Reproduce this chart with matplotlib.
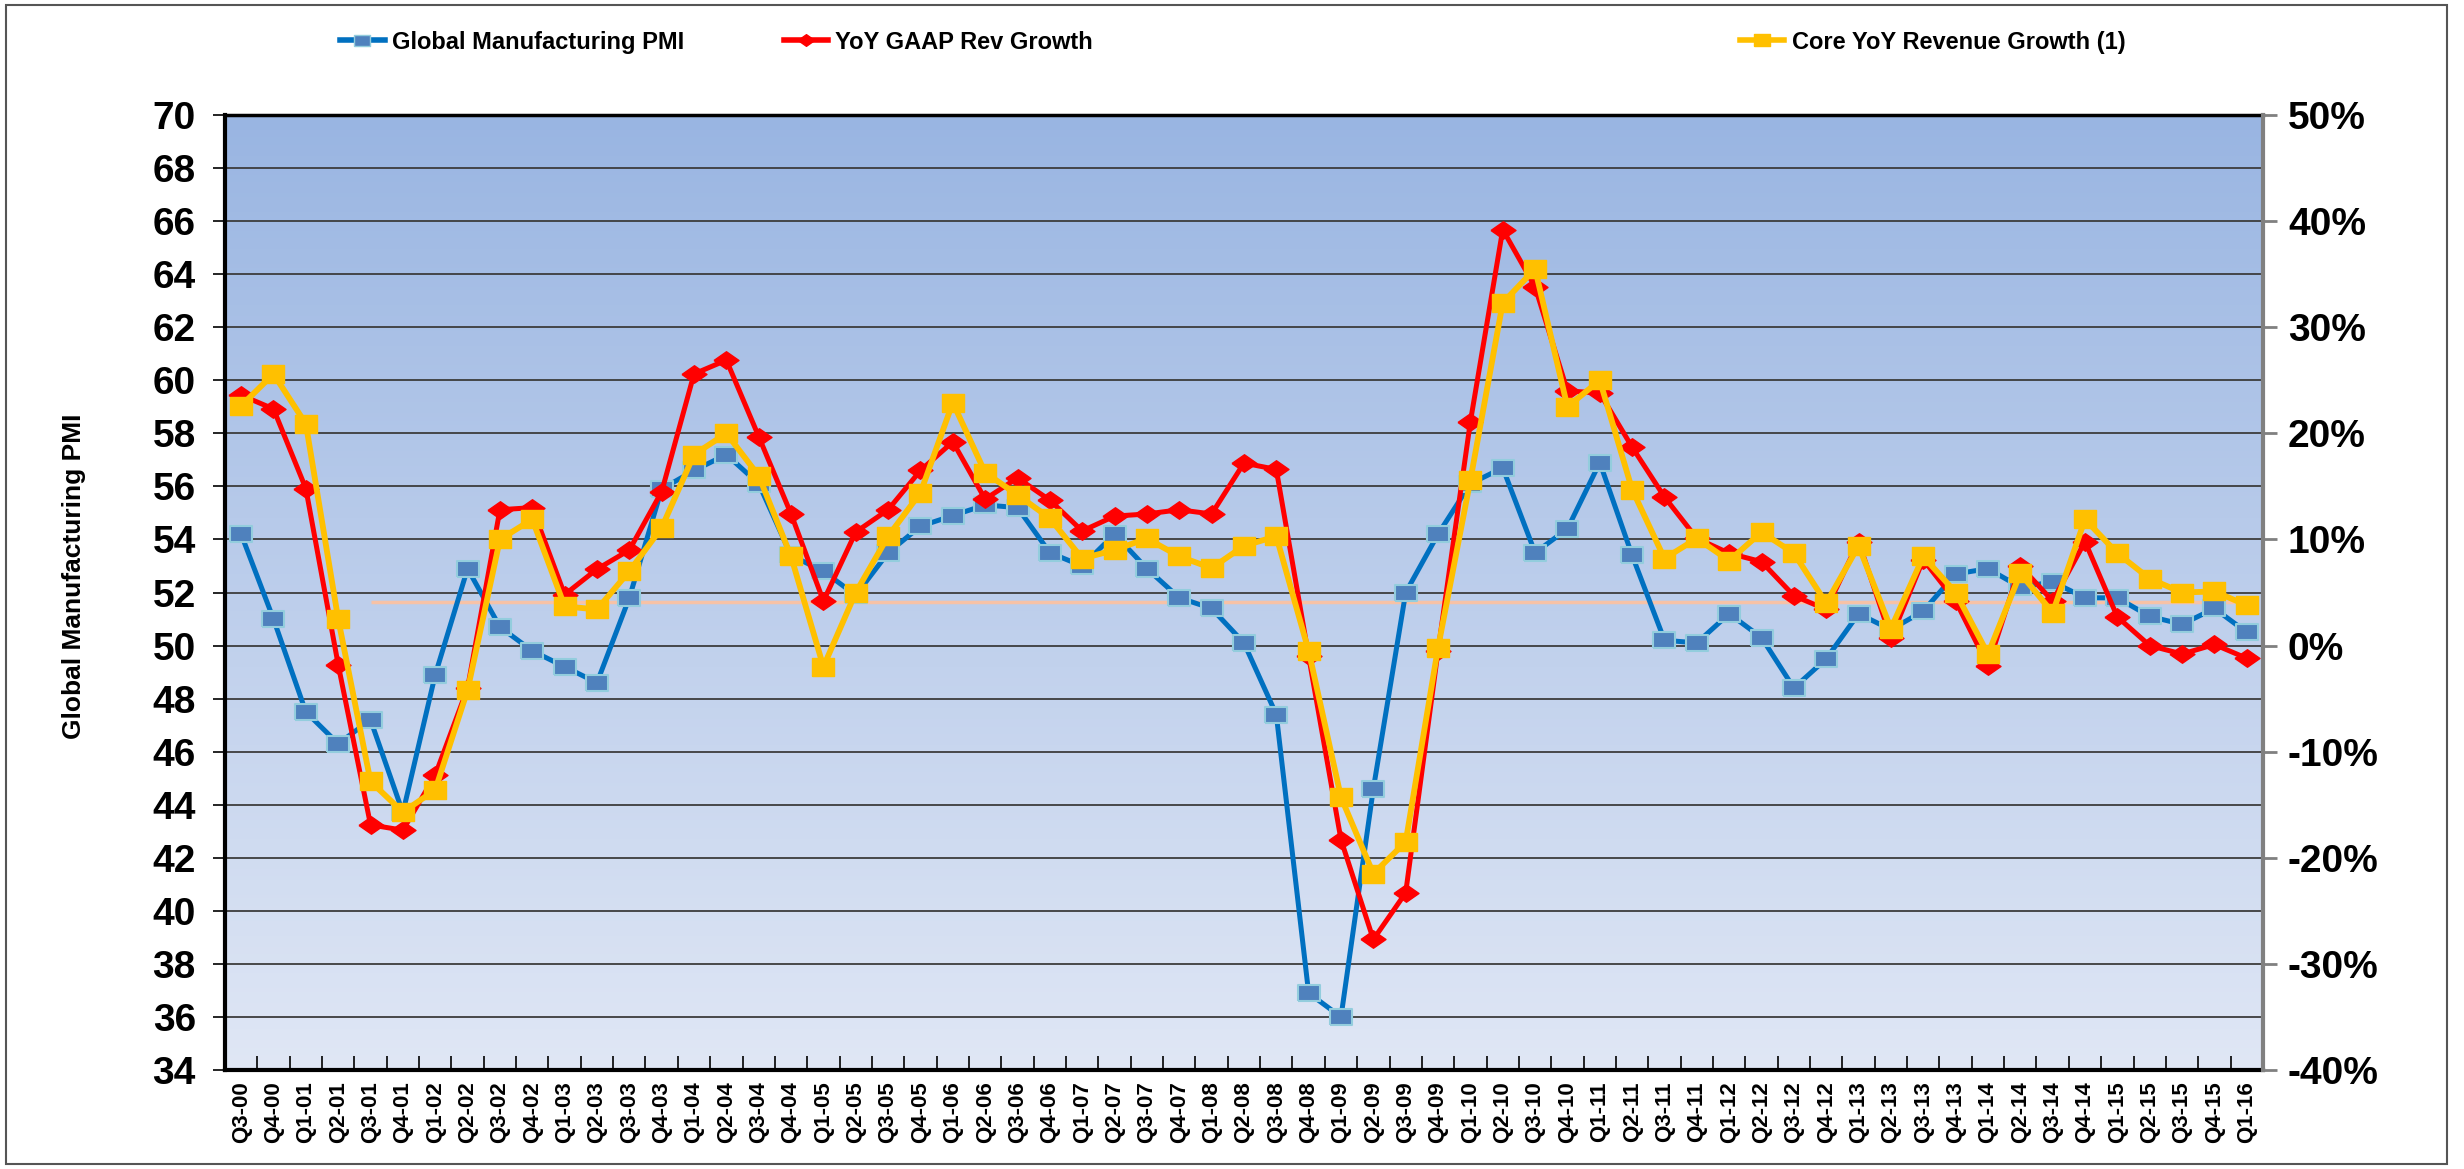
import matplotlib
matplotlib.use("Agg")
import matplotlib.pyplot as plt
from matplotlib import font_manager
from matplotlib.colors import LinearSegmentedColormap
from matplotlib.lines import Line2D
from matplotlib.patches import Rectangle
import numpy as np

quarters = [
    "Q3-00", "Q4-00",
    "Q1-01", "Q2-01", "Q3-01", "Q4-01",
    "Q1-02", "Q2-02", "Q3-02", "Q4-02",
    "Q1-03", "Q2-03", "Q3-03", "Q4-03",
    "Q1-04", "Q2-04", "Q3-04", "Q4-04",
    "Q1-05", "Q2-05", "Q3-05", "Q4-05",
    "Q1-06", "Q2-06", "Q3-06", "Q4-06",
    "Q1-07", "Q2-07", "Q3-07", "Q4-07",
    "Q1-08", "Q2-08", "Q3-08", "Q4-08",
    "Q1-09", "Q2-09", "Q3-09", "Q4-09",
    "Q1-10", "Q2-10", "Q3-10", "Q4-10",
    "Q1-11", "Q2-11", "Q3-11", "Q4-11",
    "Q1-12", "Q2-12", "Q3-12", "Q4-12",
    "Q1-13", "Q2-13", "Q3-13", "Q4-13",
    "Q1-14", "Q2-14", "Q3-14", "Q4-14",
    "Q1-15", "Q2-15", "Q3-15", "Q4-15",
    "Q1-16",
]

# left axis
pmi = [
    54.2, 51.0, 47.5, 46.3, 47.2, 43.7, 48.9, 52.9, 50.7, 49.8,
    49.2, 48.6, 51.8, 55.9, 56.6, 57.2, 56.1, 53.4, 52.8, 51.9,
    53.5, 54.5, 54.9, 55.3, 55.2, 53.5, 53.0, 54.2, 52.9, 51.8,
    51.4, 50.1, 47.4, 36.9, 36.0, 44.6, 52.0, 54.2, 56.1, 56.7,
    53.5, 54.4, 56.9, 53.4, 50.2, 50.1, 51.2, 50.3, 48.4, 49.5,
    51.2, 50.6, 51.3, 52.7, 52.9, 52.2, 52.4, 51.8, 51.8, 51.1,
    50.8, 51.4, 50.5,
]

# right axis, percent
gaap_growth = [
    23.6, 22.3, 14.8, -1.8, -16.9, -17.4, -12.2, -4.0, 12.8, 13.0,
    4.8, 7.2, 9.0, 14.5, 25.6, 26.9, 19.7, 12.4, 4.2, 10.7,
    12.8, 16.5, 19.2, 13.8, 15.8, 13.7, 10.8, 12.2, 12.4, 12.8,
    12.4, 17.2, 16.6, -1.0, -18.3, -27.7, -23.3, -0.5, 21.1, 39.2,
    33.8, 24.0, 23.8, 18.7, 14.0, 10.1, 8.7, 7.9, 4.7, 3.4,
    9.8, 0.7, 8.1, 4.2, -1.9, 7.5, 4.2, 9.8, 2.7, 0.0,
    -0.8, 0.1, -1.2,
]

core_growth = [
    22.6, 25.6, 20.9, 2.5, -12.8, -15.7, -13.6, -4.2, 10.0, 11.9,
    3.7, 3.4, 7.0, 11.1, 18.0, 20.0, 16.0, 8.4, -2.0, 5.0,
    10.3, 14.4, 22.9, 16.3, 14.2, 12.0, 8.2, 9.0, 10.1, 8.4,
    7.3, 9.4, 10.3, -0.5, -14.3, -21.5, -18.5, -0.2, 15.6, 32.3,
    35.5, 22.5, 25.0, 14.7, 8.2, 10.1, 8.0, 10.7, 8.7, 4.0,
    9.4, 1.6, 8.4, 5.0, -0.8, 6.8, 3.1, 11.9, 8.7, 6.3,
    5.0, 5.1, 3.8,
]

avg_level = 51.65

left_ticks = list(range(34, 71, 2))
right_ticks = list(range(-40, 51, 10))

_names = {f.name for f in font_manager.fontManager.ttflist}
_FONT = "Liberation Sans Narrow" if "Liberation Sans Narrow" in _names else "Liberation Sans"
plt.rcParams["font.family"] = [_FONT, "DejaVu Sans"]
plt.rcParams["font.weight"] = "bold"

_BLUE = "#0070C0"
_BLUE_FACE = "#4F81BD"
_BLUE_EDGE = "#93CDDD"
_RED = "#FF0000"
_GOLD = "#FFC000"

_rect_blue = [(-1, -0.72), (1, -0.72), (1, 0.72), (-1, 0.72), (-1, -0.72)]
_rect_gold = [(-1, -0.8), (1, -0.8), (1, 0.8), (-1, 0.8), (-1, -0.8)]
_diamond = [(-1, 0), (0, 0.7), (1, 0), (0, -0.7), (-1, 0)]

fig = plt.figure(figsize=(24.64, 11.69), dpi=100)
ax = fig.add_axes([0.0913, 0.0847, 0.8271, 0.8169])
x = np.arange(len(quarters))

bg = LinearSegmentedColormap.from_list("bg", ["#E0E7F5", "#99B5E2"])
ax.imshow(np.linspace(0, 1, 256).reshape(-1, 1), cmap=bg, origin="lower",
          extent=[-0.5, len(quarters) - 0.5, 34, 70], aspect="auto", zorder=0)

ax.set_xlim(-0.5, len(quarters) - 0.5)
ax.set_ylim(34, 70)
ax.set_yticks(left_ticks)
ax.set_yticklabels([str(t) for t in left_ticks], fontsize=28, fontweight="bold")
ax.yaxis.grid(True, color="#3c3c3c", lw=1.3, zorder=1)
ax.set_axisbelow(True)
ax.tick_params(axis="y", direction="out", length=9, width=1.2, pad=12, colors="black")

ax.set_xticks(x)
ax.set_xticklabels(quarters, rotation=90, fontsize=16, fontweight="bold")
ax.set_xticks(np.arange(-0.5, len(quarters), 1), minor=True)
ax.tick_params(axis="x", which="major", length=0, pad=8)
ax.tick_params(axis="x", which="minor", direction="in", length=10, width=1.2)

for side in ["left", "bottom"]:
    ax.spines[side].set_linewidth(3)
    ax.spines[side].set_color("black")
ax.spines["top"].set_linewidth(2.5)
ax.spines["right"].set_visible(False)

ax.hlines(avg_level, 4, 61.6, color="#F7C2A6", lw=2.5, zorder=2)

ax.plot(x, pmi, color=_BLUE, lw=3.6, marker=_rect_blue, markersize=16,
        markerfacecolor=_BLUE_FACE, markeredgecolor=_BLUE_EDGE,
        markeredgewidth=1.5, zorder=3)

ax2 = ax.twinx()
ax2.set_ylim(-40, 50)
ax2.set_yticks(right_ticks)
ax2.set_yticklabels([f"{t}%" for t in right_ticks], fontsize=28, fontweight="bold")
ax2.tick_params(axis="y", direction="out", length=10, width=2, color="#808080", pad=8)
for side in ["left", "top", "bottom"]:
    ax2.spines[side].set_visible(False)
ax2.spines["right"].set_color("#808080")
ax2.spines["right"].set_linewidth(3)
ax2.patch.set_visible(False)

ax2.plot(x, gaap_growth, color=_RED, lw=3.6, marker=_diamond, markersize=18,
         markerfacecolor=_RED, markeredgecolor=_RED, zorder=4)
ax2.plot(x, core_growth, color=_GOLD, lw=4.2, marker=_rect_gold, markersize=16,
         markerfacecolor=_GOLD, markeredgecolor=_GOLD, zorder=5)

fig.text(0.030, 0.507, "Global Manufacturing PMI", rotation=90, fontsize=19,
         fontweight="bold", ha="center", va="center")

handles = [
    (Line2D([], [], color=_BLUE, lw=4, marker=_rect_blue, markersize=11,
            markerfacecolor=_BLUE_FACE, markeredgecolor=_BLUE_EDGE),
     "Global Manufacturing PMI", 0.138),
    (Line2D([], [], color=_RED, lw=4, marker=_diamond, markersize=12,
            markerfacecolor=_RED, markeredgecolor=_RED),
     "YoY GAAP Rev Growth", 0.318),
    (Line2D([], [], color=_GOLD, lw=4, marker=_rect_gold, markersize=11,
            markerfacecolor=_GOLD, markeredgecolor=_GOLD),
     "Core YoY Revenue Growth (1)", 0.706),
]
for h, label, xpos in handles:
    leg = fig.legend(handles=[h], labels=[label], loc="center left",
                     bbox_to_anchor=(xpos, 0.964), frameon=False, borderpad=0,
                     borderaxespad=0, handlelength=1.9, handletextpad=0.3,
                     prop={"size": 17, "weight": "bold", "family": [_FONT, "DejaVu Sans"]})

fig.patches.append(Rectangle((0.0025, 0.004), 0.9905, 0.9915, transform=fig.transFigure,
                             fill=False, edgecolor="#555555", lw=1.5))

fig.savefig("out.png", dpi=100, facecolor="white")
plt.close(fig)
